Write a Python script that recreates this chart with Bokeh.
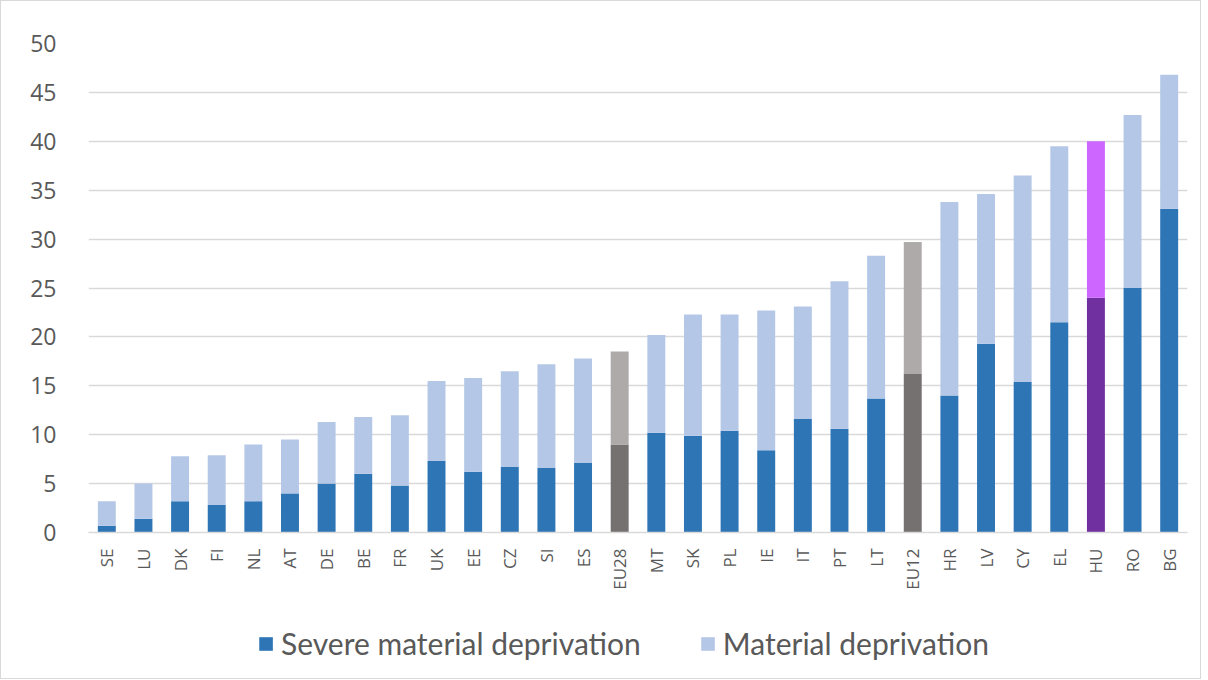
import math
from bokeh.plotting import figure
from bokeh.layouts import column
from bokeh.models import ColumnDataSource, Range1d, Legend, LegendItem, FixedTicker
from bokeh.embed import file_html
from bokeh.resources import INLINE

countries = ["SE", "LU", "DK", "FI", "NL", "AT", "DE", "BE", "FR", "UK", "EE", "CZ", "SI", "ES",
             "EU28", "MT", "SK", "PL", "IE", "IT", "PT", "LT", "EU12", "HR", "LV", "CY", "EL",
             "HU", "RO", "BG"]
severe = [0.7, 1.4, 3.2, 2.8, 3.2, 4.0, 5.0, 6.0, 4.8, 7.3, 6.2, 6.7, 6.6, 7.1,
          9.0, 10.2, 9.9, 10.4, 8.4, 11.6, 10.6, 13.7, 16.2, 14.0, 19.3, 15.4, 21.5,
          24.0, 25.0, 33.1]
material = [3.2, 5.0, 7.8, 7.9, 9.0, 9.5, 11.3, 11.8, 12.0, 15.5, 15.8, 16.5, 17.2, 17.8,
            18.5, 20.2, 22.3, 22.3, 22.7, 23.1, 25.7, 28.3, 29.7, 33.8, 34.6, 36.5, 39.5,
            40.0, 42.7, 46.8]
series_names = ["Severe material deprivation", "Material deprivation"]
y_ticks = [0, 5, 10, 15, 20, 25, 30, 35, 40, 45, 50]

BLUE_DARK, BLUE_LIGHT = "#2E75B6", "#B4C7E7"

def dark_color(c):
    if c in ("EU28", "EU12"):
        return "#767171"
    if c == "HU":
        return "#7030A0"
    return BLUE_DARK

def light_color(c):
    if c in ("EU28", "EU12"):
        return "#AEAAAA"
    if c == "HU":
        return "#CC66FF"
    return BLUE_LIGHT

src = ColumnDataSource(dict(
    x=countries, severe=severe, material=material,
    zero=[0] * len(countries),
    dark=[dark_color(c) for c in countries],
    light=[light_color(c) for c in countries],
))

p = figure(x_range=countries, y_range=Range1d(0, 50),
           frame_width=1099, frame_height=489,
           output_backend="svg", toolbar_location=None,
           min_border_left=87, min_border_right=11, min_border_top=42, min_border_bottom=70)
p.outline_line_color = None

p.vbar(x="x", bottom="zero", top="severe", width=0.49, source=src,
       fill_color="dark", line_color=None)
p.vbar(x="x", bottom="severe", top="material", width=0.49, source=src,
       fill_color="light", line_color=None)

p.xgrid.grid_line_color = None
p.ygrid.grid_line_color = "#D9D9D9"
p.ygrid.grid_line_width = 1.5
p.yaxis.ticker = FixedTicker(ticks=y_ticks)
p.yaxis.axis_line_color = None
p.yaxis.major_tick_line_color = None
p.yaxis.minor_tick_line_color = None
p.yaxis.major_label_standoff = 26
p.yaxis.major_label_text_font = "Open Sans"
p.yaxis.major_label_text_font_size = "23px"
p.yaxis.major_label_text_color = "#595959"

p.xaxis.axis_line_color = "#D9D9D9"
p.xaxis.axis_line_width = 1.5
p.xaxis.major_tick_line_color = None
p.xaxis.minor_tick_line_color = None
p.xaxis.major_label_orientation = math.pi / 2
p.xaxis.major_label_standoff = 10
p.xaxis.major_label_text_font = "Open Sans"
p.xaxis.major_label_text_font_size = "17px"
p.xaxis.major_label_text_color = "#595959"

# legend strip below the chart (proxy renderers sit outside the visible range)
p2 = figure(width=1199, height=76, x_range=Range1d(0, 1), y_range=Range1d(0, 1),
            output_backend="svg", toolbar_location=None,
            min_border_left=35, min_border_right=42, min_border_top=6, min_border_bottom=0)
p2.axis.visible = False
p2.grid.visible = False
p2.outline_line_color = None
proxy = ColumnDataSource(dict(x=[-1], top=[0]))
d1 = p2.vbar(x="x", top="top", width=0.1, source=proxy, fill_color=BLUE_DARK, line_color=None)
d2 = p2.vbar(x="x", top="top", width=0.1, source=proxy, fill_color=BLUE_LIGHT, line_color=None)

legend = Legend(items=[LegendItem(label=series_names[0], renderers=[d1], index=0),
                       LegendItem(label=series_names[1], renderers=[d2], index=0)],
                orientation="horizontal", location="center",
                label_text_font="Lato", label_text_font_size="30px",
                label_text_color="#595959", glyph_width=17, glyph_height=17,
                spacing=58, label_standoff=7, border_line_color=None,
                background_fill_alpha=0, margin=0, padding=5)
p2.add_layout(legend, "center")

layout = column(p, p2, spacing=0)
layout.styles = {"border": "1px solid #D9D9D9"}

open("out.html", "w").write(file_html(layout, INLINE))
